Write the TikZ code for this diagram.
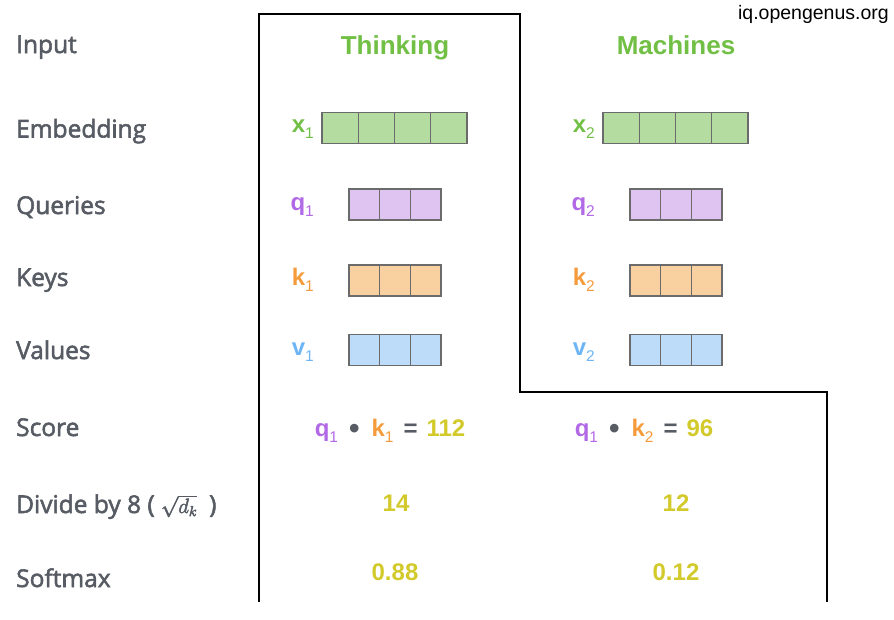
\documentclass[tikz,border=0pt]{standalone}
\usepackage{fontspec}
\setmainfont{Open Sans}
\newfontfamily\headfont{Liberation Sans}
\usepackage{xcolor}
\usepackage{tikz}
\usetikzlibrary{positioning}
\definecolor{labelgray}{HTML}{575C64}
\definecolor{cellgray}{HTML}{6B6B6B}
\definecolor{wordgreen}{HTML}{71BF45}
\definecolor{embfill}{HTML}{B4DCA0}
\definecolor{qpurple}{HTML}{B169E6}
\definecolor{qfill}{HTML}{DFC4F2}
\definecolor{korange}{HTML}{F59B3C}
\definecolor{kfill}{HTML}{F9D0A0}
\definecolor{vblue}{HTML}{6DB5F5}
\definecolor{vfill}{HTML}{BDDCF9}
\definecolor{numyellow}{HTML}{D2C92B}
\newcommand\semib{\special{pdf:literal direct 2 Tr 0.55 w}}
\newcommand\subidx[1]{\raisebox{-0.5ex}{\fontsize{15.5}{15.5}\selectfont\mdseries #1}}
\newcommand\dotop{\hspace{11pt}\textcolor{labelgray}{\raisebox{-2.5pt}{\fontsize{30}{30}\selectfont\textbullet}}\hspace{12pt}}
\newcommand\eqop{\hspace{10pt}\textcolor{labelgray}{=}\hspace{9pt}}

\begin{document}
\begin{tikzpicture}[
          x=1pt, y=-1pt,
          rowlbl/.style={anchor=base west, inner sep=0pt, text=labelgray, font=\fontsize{24.5}{26}\selectfont\semib},
          word/.style={anchor=base, inner sep=0pt, text=wordgreen, font=\headfont\bfseries\fontsize{26}{28}\selectfont},
          vec/.style={anchor=east, inner sep=0pt, font=\headfont\bfseries\fontsize{24}{26}\selectfont},
          num/.style={anchor=base, inner sep=0pt, font=\headfont\bfseries\fontsize{24}{26}\selectfont},
          cell/.style={draw=cellgray, line width=1.2pt}
      ]
        \useasboundingbox (0,0) rectangle (894,619);

        % row labels
        \node[rowlbl] (lInput) at (16,53) {Input};
        \node[rowlbl] (lEmb) at (16,137.5) {Embedding};
        \node[rowlbl] (lQ) at (16,214) {Queries};
        \node[rowlbl] (lK) at (16,286) {Keys};
        \node[rowlbl] (lV) at (16,359) {Values};
        \node[rowlbl] (lScore) at (16,436) {Score};
        \node[rowlbl] (lDiv) at (16,513) {Divide by 8 ( {\fontsize{21}{21}\selectfont$\sqrt{d_k}$}\hspace{12pt})};
        \node[rowlbl] (lSoft) at (16,587) {Softmax};

        % outline of first word
        \draw[line width=2pt] (259,602) -- (259,14) -- (520,14) -- (520,392) -- (827,392) -- (827,602);

        \node[word] (wThinking) at (395,54) {Thinking};
        \node[word] (wMachines) at (676,54) {Machines};

        % vectors
        \node[vec, text=wordgreen] (x1) at (314,129) {x\subidx{1}};
        \node[vec, text=qpurple] (q1) at (314,207) {q\subidx{1}};
        \node[vec, text=korange] (k1) at (314,280) {k\subidx{1}};
        \node[vec, text=vblue] (v1) at (314,352) {v\subidx{1}};
        \node[vec, text=wordgreen] (x2) at (595,129) {x\subidx{2}};
        \node[vec, text=qpurple] (q2) at (595,207) {q\subidx{2}};
        \node[vec, text=korange] (k2) at (595,280) {k\subidx{2}};
        \node[vec, text=vblue] (v2) at (595,352) {v\subidx{2}};

        \foreach \x in {322,603} {
          \foreach \c in {0,...,3} {
            \draw[cell, fill=embfill] (\x+\c*36.25,112.5) rectangle ++(36.25,31);
          }
        }
        \foreach \x in {349,630} {
          \foreach \y/\f in {189/qfill,265/kfill,334.5/vfill} {
            \foreach \c in {0,...,2} {
              \draw[cell, fill=\f] (\x+\c*30.67,\y) rectangle ++(30.67,31);
            }
          }
        }

        % score, divide, softmax
        \node[num] (score1) at (390,436) {\textcolor{qpurple}{q\subidx{1}}\dotop
          \textcolor{korange}{k\subidx{1}}\eqop\textcolor{numyellow}{112}};
        \node[num] (score2) at (644,436) {\textcolor{qpurple}{q\subidx{1}}\dotop
          \textcolor{korange}{k\subidx{2}}\eqop\textcolor{numyellow}{96}};
        \node[num, text=numyellow] (div1) at (396,511) {14};
        \node[num, text=numyellow] (div2) at (676,511) {12};
        \node[num, text=numyellow] (soft1) at (395,580) {0.88};
        \node[num, text=numyellow] (soft2) at (676,580) {0.12};

        \node[anchor=east, inner sep=0pt, font=\headfont\fontsize{19.5}{21}\selectfont] (site) at (889,14) {iq.opengenus.org};
      \end{tikzpicture}
\end{document}
